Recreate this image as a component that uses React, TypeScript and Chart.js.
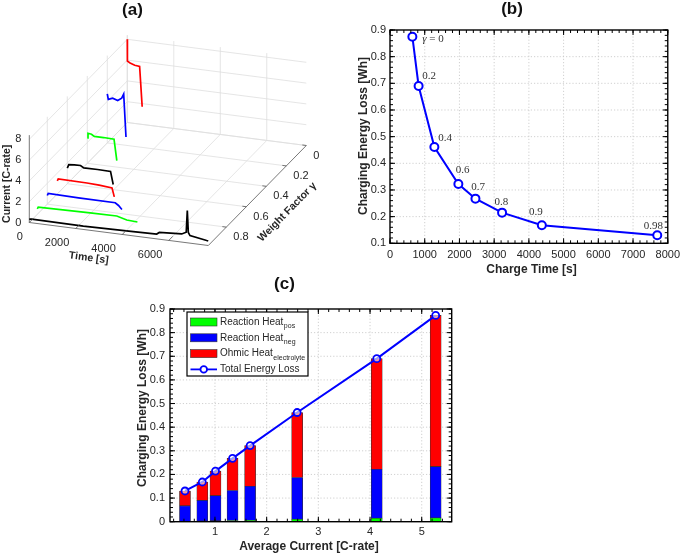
import React, { useEffect, useRef } from 'react';
import { Chart, registerables } from 'chart.js';

Chart.register(...registerables);

const SANS = "'Liberation Sans', Arial, sans-serif";
const SERIF = "'Liberation Serif', 'Times New Roman', serif";
const TXT = '#262626';

// ---------------- Panel (a) data ----------------
const gammaLevels = [0, 0.2, 0.4, 0.6, 0.7, 0.8, 0.9, 0.98];
const profileColors = ['#ff0000', '#0000ff', '#00ff00', '#000000', '#ff0000', '#0000ff', '#00ff00', '#000000'];
const timeG000 = [0, 5, 120, 320, 530, 640];
const currG000 = [8.0, 5.9, 5.75, 5.6, 5.55, 1.7];
const timeG020 = [0, 43, 232, 447, 619, 705, 804];
const currG020 = [4.71, 4.2, 4.37, 4.2, 4.48, 4.9, 0.8];
const timeG040 = [0, 30, 180, 300, 700, 1150, 1270];
const currG040 = [2.45, 2.9, 2.85, 2.68, 2.68, 2.65, 0.62];
const timeG060 = [0, 65, 300, 568, 710, 1300, 1860, 1975];
const currG060 = [1.5, 1.85, 1.9, 1.92, 1.72, 1.74, 1.72, 0.49];
const timeG070 = [0, 40, 1277, 1800, 2353, 2452];
const currG070 = [1.26, 1.45, 1.42, 1.36, 1.26, 0.42];
const timeG080 = [0, 40, 1342, 2922, 3063, 3210];
const currG080 = [0.83, 1.05, 0.98, 0.97, 0.75, 0.41];
const timeG090 = [0, 40, 2271, 3418, 3849, 4307];
const currG090 = [0.53, 0.7, 0.8, 0.82, 0.56, 0.5];
const timeG098 = [0, 100, 2323, 4474, 5480, 5594, 6556, 6750, 6797, 6840, 6913, 7630, 7697];
const currG098 = [0.33, 0.36, 0.31, 0.41, 0.46, 0.65, 0.78, 1.0, 3.1, 1.0, 0.73, 0.46, 0.44];
const profileTimes = [timeG000, timeG020, timeG040, timeG060, timeG070, timeG080, timeG090, timeG098];
const profileCurrents = [currG000, currG020, currG040, currG060, currG070, currG080, currG090, currG098];
const timeTicks = [0, 2000, 4000, 6000];
const gammaTicks = [0, 0.2, 0.4, 0.6, 0.8];
const currentTicks = [0, 2, 4, 6, 8];

// view (orthographic projection of the 3-D box into panel pixels)
const T_MAX = 7700;
const G_MAX = 0.98;
const C_MAX = 8.4;
const VIEW = { ox: 29.3, oy: 222.5, tx: 179, ty: 23, gx: 98, gy: -100, cs: 10.4 };
function project(t: number, g: number, c: number) {
  const ft = t / T_MAX;
  const fg = (G_MAX - g) / G_MAX;
  return { x: VIEW.ox + ft * VIEW.tx + fg * VIEW.gx, y: VIEW.oy + ft * VIEW.ty + fg * VIEW.gy - c * VIEW.cs };
}

// ---------------- Panel (b) data ----------------
const chargeTime = [644, 824, 1278, 1969, 2461, 3228, 4373, 7697];
const energyLoss = [0.875, 0.69, 0.461, 0.3225, 0.2675, 0.215, 0.1675, 0.13];
const gammaText = ['γ = 0', '0.2', '0.4', '0.6', '0.7', '0.8', '0.9', '0.98'];
const gammaTextX = [928, 928, 1392, 1894, 2337, 3010, 4004, 7307];
const gammaTextY = [0.865, 0.7275, 0.494, 0.375, 0.309, 0.254, 0.2175, 0.166];

// ---------------- Panel (c) data ----------------
const avgCurrent = [0.42, 0.755, 1.01, 1.34, 1.68, 2.59, 4.13, 5.27];
const reactionPos = [0.002, 0.003, 0.004, 0.005, 0.006, 0.01, 0.015, 0.016];
const reactionNeg = [0.065, 0.087, 0.106, 0.127, 0.144, 0.177, 0.207, 0.217];
const ohmicElectrolyte = [0.063, 0.078, 0.104, 0.136, 0.172, 0.275, 0.468, 0.64];
const totalLoss = [0.13, 0.168, 0.214, 0.268, 0.322, 0.462, 0.69, 0.873];

const fmt = (v: any) => String(+(+v).toFixed(3));

function line(ctx: CanvasRenderingContext2D, x1: number, y1: number, x2: number, y2: number) {
  ctx.beginPath();
  ctx.moveTo(x1, y1);
  ctx.lineTo(x2, y2);
  ctx.stroke();
}

function minorValues(min: number, max: number, step: number) {
  const out: number[] = [];
  const start = Math.ceil(min / step - 1e-9);
  for (let k = start; k * step <= max + 1e-9; k++) out.push(k * step);
  return out;
}

function framePlugin(minorX: number, minorY: number) {
  return {
    id: 'matlabFrame',
    beforeDatasetsDraw(chart: any) {
      const { ctx, chartArea: a } = chart;
      const sx = chart.scales.x;
      const sy = chart.scales.y;
      ctx.save();
      ctx.strokeStyle = '#c4c4c4';
      ctx.lineWidth = 0.8;
      ctx.setLineDash([1.2, 2]);
      for (const t of sx.ticks) {
        const p = sx.getPixelForValue(t.value);
        if (p <= a.left + 1 || p >= a.right - 1) continue;
        line(ctx, p, a.top, p, a.bottom);
      }
      for (const t of sy.ticks) {
        const p = sy.getPixelForValue(t.value);
        if (p <= a.top + 1 || p >= a.bottom - 1) continue;
        line(ctx, a.left, p, a.right, p);
      }
      ctx.restore();
    },
    afterDatasetsDraw(chart: any) {
      const { ctx, chartArea: a } = chart;
      const sx = chart.scales.x;
      const sy = chart.scales.y;
      ctx.save();
      ctx.strokeStyle = '#000';
      ctx.lineWidth = 1;
      const major = 5;
      const minor = 3;
      for (const v of minorValues(sx.min, sx.max, minorX)) {
        const p = sx.getPixelForValue(v);
        line(ctx, p, a.bottom, p, a.bottom - minor);
        line(ctx, p, a.top, p, a.top + minor);
      }
      for (const v of minorValues(sy.min, sy.max, minorY)) {
        const p = sy.getPixelForValue(v);
        line(ctx, a.left, p, a.left + minor, p);
        line(ctx, a.right, p, a.right - minor, p);
      }
      for (const t of sx.ticks) {
        const p = sx.getPixelForValue(t.value);
        line(ctx, p, a.bottom, p, a.bottom - major);
        line(ctx, p, a.top, p, a.top + major);
      }
      for (const t of sy.ticks) {
        const p = sy.getPixelForValue(t.value);
        line(ctx, a.left, p, a.left + major, p);
        line(ctx, a.right, p, a.right - major, p);
      }
      ctx.lineWidth = 1.4;
      ctx.strokeRect(a.left, a.top, a.right - a.left, a.bottom - a.top);
      ctx.restore();
    },
  };
}

function axisTitlesPlugin(xTitle: string, yTitle: string, xPos: [number, number], yPos: [number, number], size: number) {
  return {
    id: 'axisTitles',
    afterDraw(chart: any) {
      const { ctx } = chart;
      ctx.save();
      ctx.fillStyle = TXT;
      ctx.font = `bold ${size}px ${SANS}`;
      ctx.textAlign = 'center';
      ctx.textBaseline = 'middle';
      ctx.fillText(xTitle, xPos[0], xPos[1]);
      ctx.translate(yPos[0], yPos[1]);
      ctx.rotate(-Math.PI / 2);
      ctx.fillText(yTitle, 0, 0);
      ctx.restore();
    },
  };
}

function makeA(canvas: HTMLCanvasElement) {
  const datasets: any[] = [];
  profileTimes.forEach((ts, i) => {
    datasets.push({
      data: ts.map((t, k) => project(t, gammaLevels[i], profileCurrents[i][k])),
      borderColor: profileColors[i],
      borderWidth: 1.7,
      pointRadius: 0,
      showLine: true,
      fill: false,
      order: 0,
    });
  });
  const addSeg = (p1: any, p2: any, color: string, width: number, order: number) => {
    datasets.push({ data: [p1, p2], borderColor: color, borderWidth: width, pointRadius: 0, showLine: true, fill: false, order });
  };
  const GRID = '#dedede';
  // floor
  for (const t of timeTicks) addSeg(project(t, G_MAX, 0), project(t, 0, 0), GRID, 0.8, 2);
  for (const g of gammaTicks) addSeg(project(0, g, 0), project(T_MAX, g, 0), GRID, 0.8, 2);
  // back wall (gamma = 0)
  for (const t of timeTicks) addSeg(project(t, 0, 0), project(t, 0, C_MAX), GRID, 0.8, 2);
  for (const c of currentTicks) addSeg(project(0, 0, c), project(T_MAX, 0, c), GRID, 0.8, 2);
  // left wall (time = 0)
  for (const g of gammaTicks) addSeg(project(0, g, 0), project(0, g, C_MAX), GRID, 0.8, 2);
  for (const c of currentTicks) addSeg(project(0, G_MAX, c), project(0, 0, c), GRID, 0.8, 2);
  // axes
  const AX = '#555555';
  addSeg(project(0, G_MAX, 0), project(0, G_MAX, C_MAX), AX, 0.8, 1);
  addSeg(project(0, G_MAX, 0), project(T_MAX, G_MAX, 0), AX, 0.8, 1);
  addSeg(project(T_MAX, G_MAX, 0), project(T_MAX, 0, 0), AX, 0.8, 1);

  const labels = {
    id: 'aLabels',
    afterDraw(chart: any) {
      const { ctx } = chart;
      const sx = chart.scales.x;
      const sy = chart.scales.y;
      const P = (t: number, g: number, c: number) => {
        const q = project(t, g, c);
        return [sx.getPixelForValue(q.x), sy.getPixelForValue(q.y)];
      };
      ctx.save();
      ctx.strokeStyle = AX;
      ctx.lineWidth = 0.8;
      for (const t of timeTicks) {
        const [x1, y1] = P(t, G_MAX, 0);
        const [x2, y2] = P(t, G_MAX - 0.04, 0);
        line(ctx, x1, y1, x2, y2);
      }
      for (const g of gammaTicks) {
        const [x1, y1] = P(T_MAX, g, 0);
        const [x2, y2] = P(T_MAX - 170, g, 0);
        line(ctx, x1, y1, x2, y2);
      }
      ctx.fillStyle = TXT;
      ctx.font = `11px ${SANS}`;
      ctx.textBaseline = 'middle';
      ctx.textAlign = 'right';
      for (const c of currentTicks) {
        const [x, y] = P(0, G_MAX, c);
        ctx.fillText(String(c), x - 8, y);
      }
      for (const t of timeTicks) {
        const [x, y] = P(t, G_MAX, 0);
        ctx.fillText(String(t), x - 6.5, y + 14.5);
      }
      ctx.textAlign = 'left';
      for (const g of gammaTicks) {
        const [x, y] = P(T_MAX, g, 0);
        ctx.fillText(String(g), x + 7, y + 10);
      }
      ctx.font = `bold 10.5px ${SANS}`;
      ctx.textAlign = 'center';
      const [zx, zy] = P(0, G_MAX, C_MAX / 2);
      ctx.save();
      ctx.translate(zx - 22, zy + 5);
      ctx.rotate(-Math.PI / 2);
      ctx.fillText('Current [C-rate]', 0, 0);
      ctx.restore();
      const [tx, ty] = P(T_MAX / 2, G_MAX, 0);
      ctx.save();
      ctx.translate(tx - 30, ty + 24);
      ctx.rotate(Math.atan2(VIEW.ty, VIEW.tx));
      ctx.fillText('Time [s]', 0, 0);
      ctx.restore();
      const [gx, gy] = P(T_MAX, G_MAX / 2, 0);
      ctx.save();
      ctx.translate(gx + 30, gy + 16.5);
      ctx.rotate(Math.atan2(VIEW.gy, VIEW.gx));
      ctx.fillText('Weight Factor γ', 0, 0);
      ctx.restore();
      ctx.restore();
    },
  };

  return new Chart(canvas, {
    type: 'scatter',
    data: { datasets },
    options: {
      animation: false,
      responsive: false,
      events: [],
      layout: { padding: 0 },
      plugins: { legend: { display: false }, tooltip: { enabled: false } },
      scales: {
        x: { type: 'linear', display: false, min: 0, max: 340 },
        y: { type: 'linear', display: false, min: 0, max: 272, reverse: true },
      },
    } as any,
    plugins: [labels],
  });
}

function makeB(canvas: HTMLCanvasElement) {
  const textPlugin = {
    id: 'gammaText',
    afterDatasetsDraw(chart: any) {
      const { ctx } = chart;
      const sx = chart.scales.x;
      const sy = chart.scales.y;
      ctx.save();
      ctx.fillStyle = '#333';
      ctx.textBaseline = 'middle';
      ctx.textAlign = 'left';
      gammaText.forEach((s, i) => {
        let px = sx.getPixelForValue(gammaTextX[i]);
        const py = sy.getPixelForValue(gammaTextY[i]);
        if (s.startsWith('γ')) {
          ctx.font = `italic 11px ${SERIF}`;
          ctx.fillText('γ', px, py);
          px += ctx.measureText('γ').width;
          ctx.font = `11px ${SERIF}`;
          ctx.fillText(s.slice(1), px, py);
        } else {
          ctx.font = `11px ${SERIF}`;
          ctx.fillText(s, px, py);
        }
      });
      ctx.restore();
    },
  };
  return new Chart(canvas, {
    type: 'scatter',
    data: {
      datasets: [
        {
          data: chargeTime.map((t, i) => ({ x: t, y: energyLoss[i] })),
          showLine: true,
          borderColor: '#0000ff',
          borderWidth: 2,
          pointRadius: 4,
          pointBorderWidth: 2,
          pointBorderColor: '#0000ff',
          pointBackgroundColor: '#ffffff',
          clip: false,
        },
      ],
    },
    options: {
      animation: false,
      responsive: false,
      events: [],
      layout: { padding: { left: 0, top: 30, right: 13.3, bottom: 0 } },
      plugins: { legend: { display: false }, tooltip: { enabled: false } },
      scales: {
        x: {
          type: 'linear',
          min: 0,
          max: 8000,
          grid: { display: false, drawTicks: false },
          border: { display: false },
          ticks: { stepSize: 1000, includeBounds: false, padding: 5, color: TXT, font: { family: SANS, size: 11 }, callback: fmt, maxRotation: 0 },
          afterFit: (s: any) => { s.height = 36.7; },
        },
        y: {
          type: 'linear',
          min: 0.1,
          max: 0.9,
          grid: { display: false, drawTicks: false },
          border: { display: false },
          ticks: { stepSize: 0.1, includeBounds: false, padding: 4, color: TXT, font: { family: SANS, size: 11 }, callback: fmt },
          afterFit: (s: any) => { s.width = 50; },
        },
      },
    } as any,
    plugins: [framePlugin(200, 0.02), textPlugin, axisTitlesPlugin('Charge Time [s]', 'Charging Energy Loss [Wh]', [191.5, 269.3], [23.3, 136], 12)],
  });
}

function makeC(canvas: HTMLCanvasElement) {
  const legendPlugin = {
    id: 'subLegend',
    afterDraw(chart: any) {
      const { ctx, chartArea: a } = chart;
      const bx = a.left + 17;
      const by = a.top + 3;
      const bw = 121;
      const bh = 64;
      ctx.save();
      ctx.fillStyle = '#fff';
      ctx.fillRect(bx, by, bw, bh);
      ctx.strokeStyle = '#000';
      ctx.lineWidth = 1.2;
      ctx.strokeRect(bx, by, bw, bh);
      chart.data.datasets.forEach((d: any, i: number) => {
        const cy = by + 10 + i * 15.8;
        if (d.type === 'line') {
          ctx.strokeStyle = d.borderColor;
          ctx.lineWidth = 1.8;
          line(ctx, bx + 3.5, cy, bx + 30, cy);
          ctx.beginPath();
          ctx.arc(bx + 16.75, cy, 3.3, 0, Math.PI * 2);
          ctx.fillStyle = '#fff';
          ctx.fill();
          ctx.stroke();
        } else {
          ctx.fillStyle = d.backgroundColor;
          ctx.fillRect(bx + 3.5, cy - 4, 26.5, 8);
          ctx.strokeStyle = '#333';
          ctx.lineWidth = 0.6;
          ctx.strokeRect(bx + 3.5, cy - 4, 26.5, 8);
        }
        ctx.fillStyle = TXT;
        ctx.font = `10px ${SANS}`;
        ctx.textBaseline = 'middle';
        ctx.textAlign = 'left';
        const tx = bx + 33;
        ctx.fillText(d.label, tx, cy);
        if (d.sub) {
          const w = ctx.measureText(d.label).width;
          ctx.font = `7px ${SANS}`;
          ctx.fillText(d.sub, tx + w + 0.5, cy + 4);
        }
      });
      ctx.restore();
    },
  };
  const barCommon = { type: 'bar', stack: 'heat', barThickness: 11, borderColor: '#333333', borderWidth: 0.6, borderSkipped: false, order: 1 };
  return new Chart(canvas, {
    type: 'bar',
    data: {
      datasets: [
        { ...barCommon, label: 'Reaction Heat', sub: 'pos', backgroundColor: '#00ff00', data: avgCurrent.map((x, i) => ({ x, y: reactionPos[i] })) },
        { ...barCommon, label: 'Reaction Heat', sub: 'neg', backgroundColor: '#0000ff', data: avgCurrent.map((x, i) => ({ x, y: reactionNeg[i] })) },
        { ...barCommon, label: 'Ohmic Heat', sub: 'electrolyte', backgroundColor: '#ff0000', data: avgCurrent.map((x, i) => ({ x, y: ohmicElectrolyte[i] })) },
        {
          type: 'line',
          stack: 'total',
          label: 'Total Energy Loss',
          data: avgCurrent.map((x, i) => ({ x, y: totalLoss[i] })),
          borderColor: '#0000ff',
          borderWidth: 2,
          pointRadius: 3.5,
          pointBorderWidth: 1.8,
          pointBorderColor: '#0000ff',
          pointBackgroundColor: 'rgba(255,255,255,0.6)',
          fill: false,
          order: 0,
          clip: false,
        },
      ] as any,
    },
    options: {
      animation: false,
      responsive: false,
      events: [],
      layout: { padding: { left: 0, top: 37, right: 98.3, bottom: 0 } },
      plugins: { legend: { display: false }, tooltip: { enabled: false } },
      scales: {
        x: {
          type: 'linear',
          min: 0.13,
          max: 5.58,
          offset: false,
          stacked: true,
          grid: { display: false, drawTicks: false },
          border: { display: false },
          ticks: { stepSize: 1, includeBounds: false, padding: 4, color: TXT, font: { family: SANS, size: 11 }, callback: fmt, maxRotation: 0 },
          afterFit: (s: any) => { s.height = 32.3; },
        },
        y: {
          type: 'linear',
          min: 0,
          max: 0.9,
          stacked: true,
          grid: { display: false, drawTicks: false },
          border: { display: false },
          ticks: { stepSize: 0.1, includeBounds: false, padding: 5, color: TXT, font: { family: SANS, size: 11 }, callback: fmt },
          afterFit: (s: any) => { s.width = 40; },
        },
      },
    } as any,
    plugins: [framePlugin(0.2, 0.02), legendPlugin, axisTitlesPlugin('Average Current [C-rate]', 'Charging Energy Loss [Wh]', [179, 274.5], [12.5, 136], 12)],
  });
}

const titleStyle = (cx: number, cy: number): React.CSSProperties => ({
  position: 'absolute',
  left: cx - 30,
  top: cy - 10,
  width: 60,
  height: 20,
  lineHeight: '20px',
  textAlign: 'center',
  font: `bold 17px ${SANS}`,
  color: '#111',
});

export default function App() {
  const refA = useRef<HTMLCanvasElement>(null);
  const refB = useRef<HTMLCanvasElement>(null);
  const refC = useRef<HTMLCanvasElement>(null);
  useEffect(() => {
    const charts = [makeA(refA.current!), makeB(refB.current!), makeC(refC.current!)];
    return () => charts.forEach((c) => c.destroy());
  }, []);
  return (
    <div style={{ position: 'absolute', left: 0, top: 0, width: 685, height: 554, background: '#fff', overflow: 'hidden' }}>
      <canvas ref={refA} width={340} height={272} style={{ position: 'absolute', left: 0, top: 0 }} />
      <canvas ref={refB} width={345} height={280} style={{ position: 'absolute', left: 340, top: 0 }} />
      <canvas ref={refC} width={420} height={282} style={{ position: 'absolute', left: 130, top: 272 }} />
      <div style={titleStyle(132.5, 10)}>(a)</div>
      <div style={titleStyle(512, 8.5)}>(b)</div>
      <div style={titleStyle(284.5, 283.5)}>(c)</div>
    </div>
  );
}
